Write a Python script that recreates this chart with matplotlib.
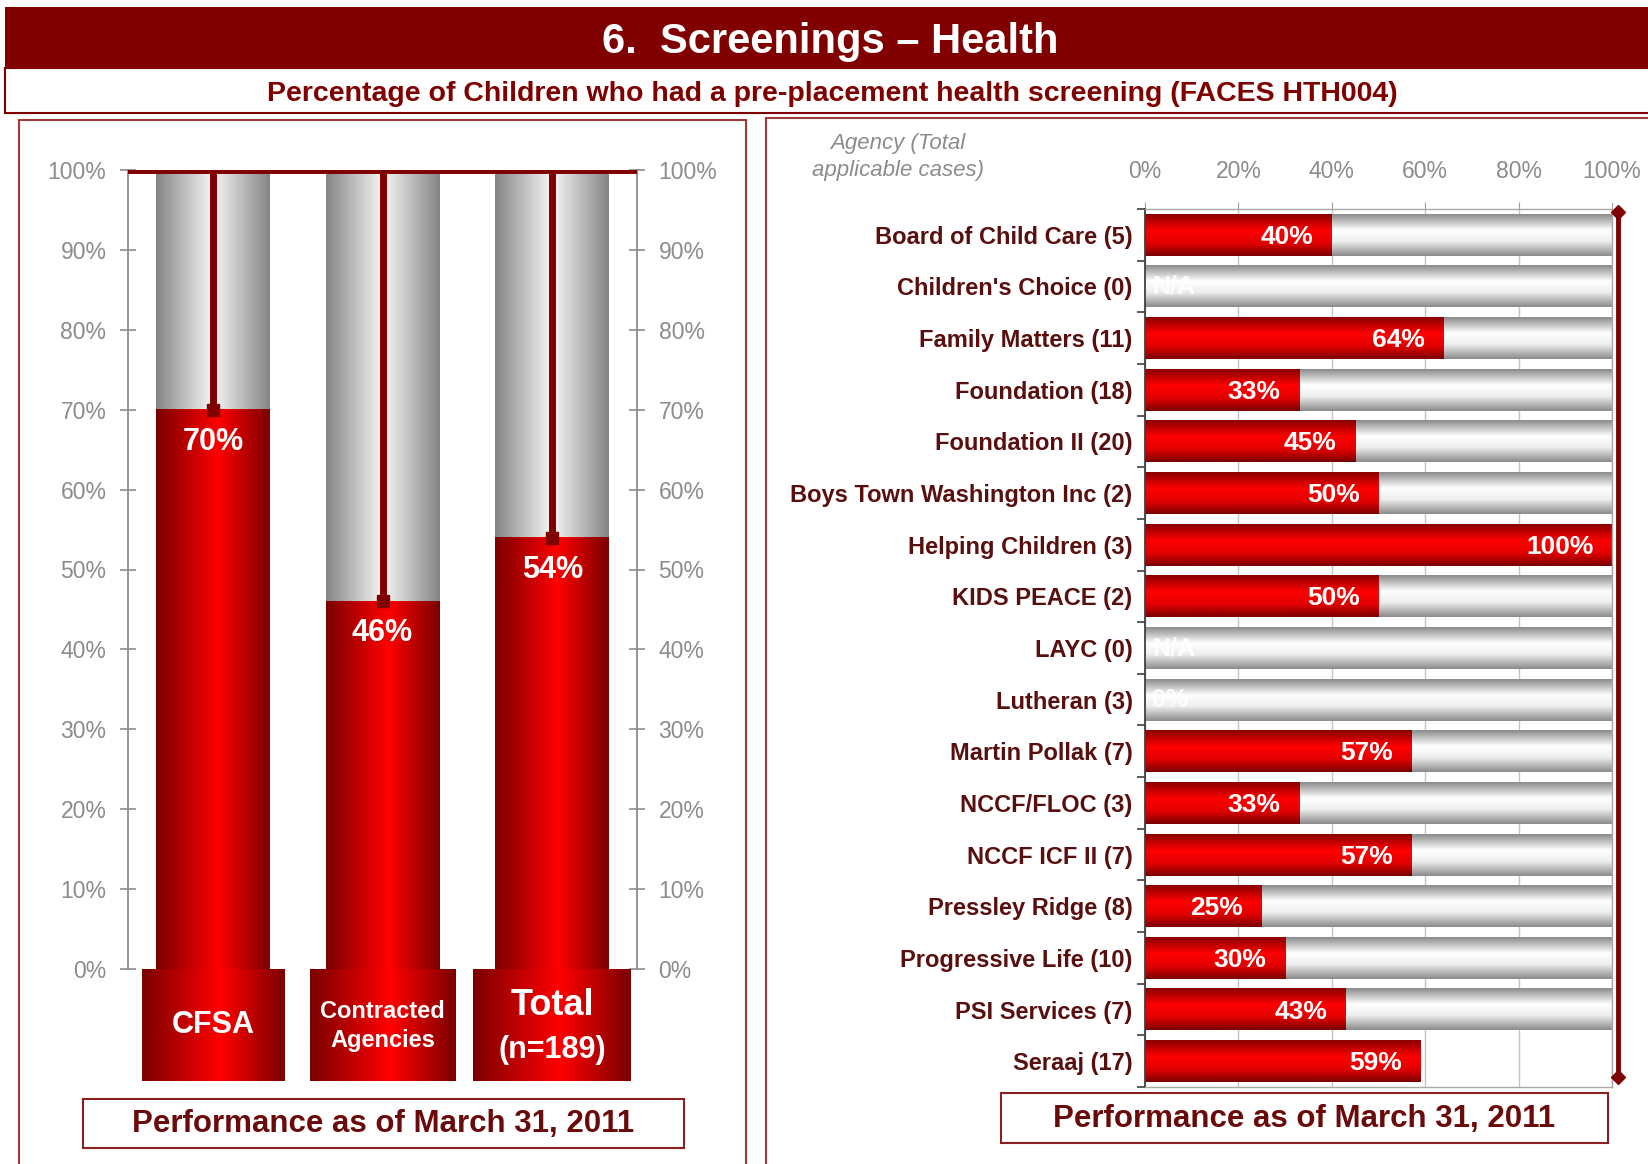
import numpy as np
import matplotlib.pyplot as plt
from matplotlib.patches import Rectangle
from matplotlib.colors import LinearSegmentedColormap

# ---- data ----
title = "6.  Screenings \u2013 Health"
subtitle = "Percentage of Children who had a pre-placement health screening (FACES HTH004)"
footer = "Performance as of March 31, 2011"

groups = ["CFSA", "Contracted\nAgencies", "Total"]
group_pct = [70, 46, 54]
total_n = 189

agencies = ["Board of Child Care", "Children's Choice", "Family Matters", "Foundation",
            "Foundation II", "Boys Town Washington Inc", "Helping Children", "KIDS PEACE",
            "LAYC", "Lutheran", "Martin Pollak", "NCCF/FLOC", "NCCF ICF II",
            "Pressley Ridge", "Progressive Life", "PSI Services", "Seraaj"]
cases = [5, 0, 11, 18, 20, 2, 3, 2, 0, 3, 7, 3, 7, 8, 10, 7, 17]
agency_pct = [40, None, 64, 33, 45, 50, 100, 50, None, 0, 57, 33, 57, 25, 30, 43, 59]
has_track = [True] * 16 + [False]
target = 100

# ---- look ----
W, H = 1648, 1164
MAROON = "#800000"
GRAY_TXT = "#8c8c8c"
SANS = ["Liberation Sans", "DejaVu Sans"]

gray_h = LinearSegmentedColormap.from_list("gh", [(0, "#858585"), (0.5, "#f7f7f7"), (1, "#858585")])
red_h = LinearSegmentedColormap.from_list("rh", [(0, "#7a0000"), (0.55, "#ff0000"), (1, "#7a0000")])
gray_v = LinearSegmentedColormap.from_list("gv", [(0, "#8a8a8a"), (0.38, "#ffffff"), (0.65, "#eeeeee"), (1, "#8a8a8a")])
red_v = LinearSegmentedColormap.from_list("rv", [(0, "#8a0000"), (0.4, "#ff0000"), (0.7, "#e00000"), (1, "#7a0000")])
grad = np.linspace(0, 1, 256)


def fx(px):
    return px / W


def fy(py):
    return 1 - py / H


def fig_box(x0, y0, x1, y1, **kw):
    r = Rectangle((fx(x0), fy(y1)), fx(x1) - fx(x0), fy(y0) - fy(y1),
                  transform=fig.transFigure, **kw)
    fig.add_artist(r)


def fill_vertical_bar(ax, bar, cmap, z):
    # horizontal gradient across a vertical bar
    x0, y0 = bar.get_x(), bar.get_y()
    ax.imshow(grad.reshape(1, -1), cmap=cmap, aspect="auto", interpolation="bicubic",
              extent=(x0, x0 + bar.get_width(), y0, y0 + bar.get_height()), zorder=z)


def fill_horizontal_bar(ax, bar, cmap, z):
    # vertical gradient across a horizontal bar (y axis inverted)
    x0, y0 = bar.get_x(), bar.get_y()
    ax.imshow(grad.reshape(-1, 1), cmap=cmap, aspect="auto", interpolation="bicubic",
              extent=(x0, x0 + bar.get_width(), y0 + bar.get_height(), y0), zorder=z)


fig = plt.figure(figsize=(W / 100, H / 100), dpi=100)

# header
fig_box(5, 7, 1660, 68, facecolor=MAROON, edgecolor="none")
fig.text(fx(830), fy(42), title, color="white", fontsize=30, fontweight="bold",
         family=SANS, ha="center", va="center")
fig_box(5, 68, 1660, 113, facecolor="white", edgecolor=MAROON, lw=1.5)
fig.text(fx(832), fy(94), subtitle, color=MAROON, fontsize=20.5, fontweight="bold",
         family=SANS, ha="center", va="center")

# panel frames
fig_box(19, 120, 746, 1180, facecolor="none", edgecolor="#a03a3a", lw=1.5)
fig_box(766, 118, 1680, 1180, facecolor="none", edgecolor="#a03a3a", lw=1.5)

# ---- left: thermometer bars ----
ax = fig.add_axes([fx(128), fy(969), fx(637) - fx(128), fy(170) - fy(969)])
xs = np.arange(len(groups))
tracks = ax.bar(xs, [100] * len(groups), width=0.67, color="none")
fills = ax.bar(xs, group_pct, width=0.67, color="none")
for b in tracks:
    fill_vertical_bar(ax, b, gray_h, 1)
for b in fills:
    fill_vertical_bar(ax, b, red_h, 2)
ax.vlines(xs, group_pct, 100, color=MAROON, lw=5, zorder=4)
ax.plot(xs, group_pct, "s", color=MAROON, ms=8, zorder=4)
ax.axhline(100, color=MAROON, lw=5, zorder=5)
for x, v in zip(xs, group_pct):
    ax.text(x, v - 4.0, f"{v}%", color="white", fontsize=22, fontweight="bold",
            family=SANS, ha="center", va="center", zorder=6)
ax.set_xlim(-0.5, 2.5)
ax.set_ylim(0, 100)
ax.set_xticks([])
ax.set_yticks(range(0, 101, 10))
ax.set_yticklabels([f"{t}%" for t in range(0, 101, 10)], family=SANS)
ax.yaxis.set_ticks_position("both")
ax.tick_params(axis="y", labelleft=True, labelright=True, direction="inout", length=11,
               width=1.2, color=GRAY_TXT, labelcolor=GRAY_TXT, labelsize=16.5, pad=10)
for s in ("top", "bottom"):
    ax.spines[s].set_visible(False)
for s in ("left", "right"):
    ax.spines[s].set_color(GRAY_TXT)
    ax.spines[s].set_linewidth(1.3)

# category boxes under the bars
axc = fig.add_axes([fx(128), fy(1081), fx(637) - fx(128), fy(969) - fy(1081)])
boxes = axc.bar(xs, [1] * len(groups), width=[0.84, 0.86, 0.93], color="none")
for b in boxes:
    fill_vertical_bar(axc, b, red_h, 1)
axc.set_xlim(-0.5, 2.5)
axc.set_ylim(0, 1)
axc.axis("off")
axc.text(xs[0], 0.5, groups[0], color="white", fontsize=22, fontweight="bold",
         family=SANS, ha="center", va="center", zorder=3)
axc.text(xs[1], 0.49, groups[1], color="white", fontsize=17, fontweight="bold",
         family=SANS, ha="center", va="center", linespacing=1.35, zorder=3)
axc.text(xs[2], 0.67, groups[2], color="white", fontsize=26, fontweight="bold",
         family=SANS, ha="center", va="center", zorder=3)
axc.text(xs[2], 0.28, f"(n={total_n})", color="white", fontsize=22, fontweight="bold",
         family=SANS, ha="center", va="center", zorder=3)

fig_box(83, 1099, 684, 1148, facecolor="white", edgecolor="#8b2020", lw=1.5)
fig.text(fx(383), fy(1124), footer, color="#6b0a0a", fontsize=22.5, fontweight="bold",
         family=SANS, ha="center", va="center")

# ---- right: agency bars ----
axr = fig.add_axes([fx(1145), fy(1087), fx(1612) - fx(1145), fy(209) - fy(1087)])
ys = np.arange(len(agencies))
vals = [0 if v is None else v for v in agency_pct]
track_bars = axr.barh(ys, [100 if t else 0 for t in has_track], height=0.81, color="none")
val_bars = axr.barh(ys, vals, height=0.81, color="none")
for b, t in zip(track_bars, has_track):
    if t:
        fill_horizontal_bar(axr, b, gray_v, 1)
for b, v in zip(val_bars, vals):
    if v > 0:
        fill_horizontal_bar(axr, b, red_v, 2)
for y, v in zip(ys, agency_pct):
    if v is None:
        axr.text(1.5, y, "N/A", color="white", fontsize=18, fontweight="bold",
                 family=SANS, ha="left", va="center", alpha=0.85, zorder=4)
    elif v == 0:
        axr.text(1.5, y, "0%", color="white", fontsize=18, fontweight="bold",
                 family=SANS, ha="left", va="center", alpha=0.85, zorder=4)
    else:
        axr.text(v - 4, y + 0.04, f"{v}%", color="white", fontsize=19, fontweight="bold",
                 family=SANS, ha="right", va="center", zorder=4)

axr.plot([target + 1.2, target + 1.2], [-0.44, 16.3], color=MAROON, lw=3.5,
         marker="D", ms=7, clip_on=False, zorder=6)

axr.set_xlim(0, 100)
axr.set_ylim(len(agencies) - 0.5, -0.5)
axr.set_axisbelow(True)
axr.xaxis.grid(True, color="#c4c4c4", lw=1)
axr.xaxis.tick_top()
axr.set_xticks(range(0, 101, 20))
axr.set_xticklabels([f"{t}%" for t in range(0, 101, 20)], family=SANS)
axr.tick_params(axis="x", length=5, color="#a0a0a0", labelcolor=GRAY_TXT, labelsize=16.5, pad=14)
axr.set_yticks(ys)
axr.set_yticklabels([f"{a} ({n})" for a, n in zip(agencies, cases)], family=SANS,
                    fontweight="bold")
axr.set_yticks(np.arange(-0.5, len(agencies)), minor=True)
axr.tick_params(axis="y", which="major", length=0, pad=9, labelsize=17, labelcolor="#5a0f0f")
axr.tick_params(axis="y", which="minor", length=6, width=1.2, color="#404040")
axr.spines["left"].set_color("#404040")
axr.spines["left"].set_linewidth(1.3)
for s in ("top", "right", "bottom"):
    axr.spines[s].set_color("#a8a8a8")
    axr.spines[s].set_linewidth(1)

fig.text(fx(898), fy(157), "Agency (Total\napplicable cases)", color=GRAY_TXT, fontsize=16,
         style="italic", family=SANS, ha="center", va="center", linespacing=1.35)

fig_box(1001, 1093, 1608, 1143, facecolor="white", edgecolor="#8b2020", lw=1.5)
fig.text(fx(1304), fy(1119), footer, color="#6b0a0a", fontsize=22.5, fontweight="bold",
         family=SANS, ha="center", va="center")

fig.savefig("out.png", dpi=100)
